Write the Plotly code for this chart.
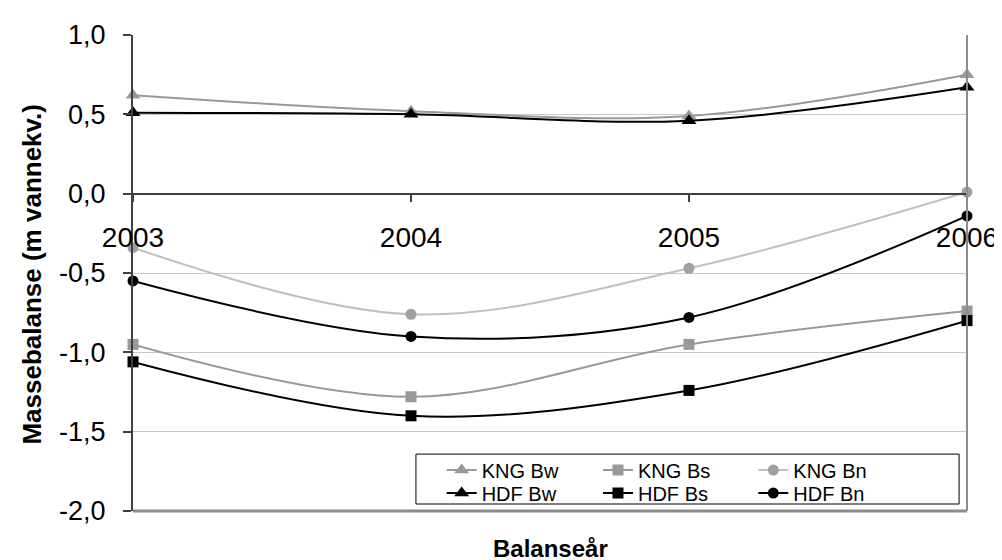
import plotly.graph_objects as go

years = [2003, 2004, 2005, 2006]
year_labels = ["2003", "2004", "2005", "2006"]
kng_bw = [0.62, 0.52, 0.49, 0.75]
kng_bs = [-0.95, -1.28, -0.95, -0.74]
kng_bn = [-0.34, -0.76, -0.47, 0.01]
hdf_bw = [0.51, 0.50, 0.46, 0.67]
hdf_bs = [-1.06, -1.40, -1.24, -0.80]
hdf_bn = [-0.55, -0.90, -0.78, -0.14]
y_ticks = [-2.0, -1.5, -1.0, -0.5, 0.0, 0.5, 1.0]
y_tick_labels = ["-2,0", "-1,5", "-1,0", "-0,5", "0,0", "0,5", "1,0"]

FONT = "Liberation Sans, Arial, sans-serif"

series = [
    ("KNG Bw", kng_bw, "#999999", "#999999", "triangle-up", 13, "legend"),
    ("KNG Bs", kng_bs, "#999999", "#999999", "square", 11, "legend2"),
    ("KNG Bn", kng_bn, "#c0c0c0", "#a0a0a0", "circle", 11, "legend3"),
    ("HDF Bw", hdf_bw, "#000000", "#000000", "triangle-up", 13, "legend4"),
    ("HDF Bs", hdf_bs, "#000000", "#000000", "square", 11, "legend5"),
    ("HDF Bn", hdf_bn, "#000000", "#000000", "circle", 11, "legend6"),
]

fig = go.Figure()
for name, vals, lc, mc, sym, sz, lg in series:
    fig.add_trace(go.Scatter(
        x=years, y=vals, name=name, mode="lines+markers",
        line=dict(color=lc, width=2, shape="spline", smoothing=1),
        marker=dict(color=mc, symbol=sym, size=sz),
        cliponaxis=False, legend=lg,
    ))

L, R, T, B = 125, 34, 26, 57
W, H = 1002, 560
pw, ph = W - L - R, H - T - B

def px_x(x):
    return (x - L) / pw

def px_y(y):
    return (H - B - y) / ph

col_x = [px_x(437), px_x(595), px_x(752)]
row_y = [px_y(462), px_y(485)]
legend_common = dict(orientation="v", xanchor="left", yanchor="middle",
                     bgcolor="rgba(0,0,0,0)", borderwidth=0,
                     font=dict(family=FONT, size=20, color="#000"))
legends = {}
names = ["legend", "legend2", "legend3", "legend4", "legend5", "legend6"]
for i, n in enumerate(names):
    legends[n] = dict(x=col_x[i % 3], y=row_y[i // 3], **legend_common)

fig.update_layout(
    width=W, height=H,
    margin=dict(l=L, r=R, t=T, b=B),
    paper_bgcolor="white", plot_bgcolor="white",
    font=dict(family=FONT, color="#000"),
    showlegend=True,
    **legends,
    xaxis=dict(
        range=[2003, 2006], tickvals=years, ticktext=year_labels,
        anchor="free", position=2 / 3,
        showline=True, linecolor="#404040", linewidth=1.5,
        ticks="outside", ticklen=8, tickcolor="#404040", tickwidth=1.5,
        showgrid=False, zeroline=False,
        tickfont=dict(family=FONT, size=28, color="#000"),
        ticklabelstandoff=11,
    ),
    yaxis=dict(
        range=[-2, 1], tickvals=y_ticks, ticktext=y_tick_labels,
        showline=True, linecolor="#404040", linewidth=2,
        ticks="outside", ticklen=8, tickcolor="#404040", tickwidth=1.5,
        showgrid=True, gridcolor="#c8c8c8", gridwidth=1, zeroline=False,
        tickfont=dict(family=FONT, size=27, color="#000"),
        ticklabelstandoff=12,
    ),
    shapes=[
        dict(type="line", xref="paper", yref="paper", x0=1, x1=1, y0=0, y1=1,
             line=dict(color="#8c8c8c", width=2), layer="above"),
        dict(type="line", xref="paper", yref="paper", x0=0, x1=1, y0=0, y1=0,
             line=dict(color="#8c8c8c", width=3), layer="above"),
        dict(type="rect", xref="paper", yref="paper",
             x0=px_x(411), x1=px_x(960), y0=px_y(496), y1=px_y(446),
             line=dict(color="#000", width=1), fillcolor="white", layer="above"),
    ],
    annotations=[
        dict(text="<b>Massebalanse (m vannekv.)</b>", textangle=-90,
             xref="paper", yref="paper", x=px_x(23), y=px_y(266),
             xanchor="center", yanchor="middle", showarrow=False,
             font=dict(family=FONT, size=26, color="#000")),
        dict(text="<b>Balanseår</b>", xref="paper", yref="paper",
             x=0.5, y=px_y(541), xanchor="center", yanchor="middle",
             showarrow=False, font=dict(family=FONT, size=24, color="#000")),
    ],
)

fig.write_html("out.html")
